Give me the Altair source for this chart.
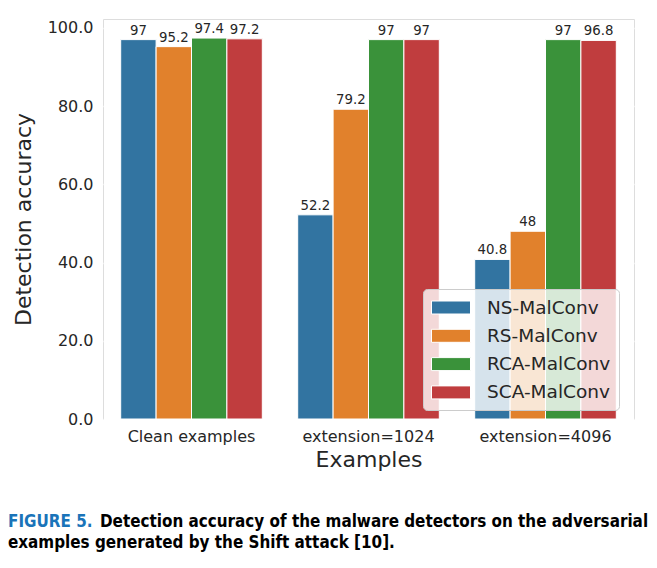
import altair as alt
import pandas as pd

categories = ["Clean examples", "extension=1024", "extension=4096"]
models = ["NS-MalConv", "RS-MalConv", "RCA-MalConv", "SCA-MalConv"]
ns_vals = [97, 52.2, 40.8]
rs_vals = [95.2, 79.2, 48]
rca_vals = [97.4, 97, 97]
sca_vals = [97.2, 97, 96.8]
colors = ["#3274a1", "#e1812c", "#3a923a", "#c03d3e"]
caption_head = ["FIGURE 5."]
caption_line1 = ["Detection accuracy of the malware detectors on the adversarial"]
caption_line2 = ["examples generated by the Shift attack [10]."]

rows = []
for m, vals in zip(models, [ns_vals, rs_vals, rca_vals, sca_vals]):
    for c, v in zip(categories, vals):
        rows.append({"category": c, "model": m, "value": v, "label": f"{v:g}"})
df = pd.DataFrame(rows)

font = "DejaVu Sans"
cap_font = "DejaVu Sans Condensed"
cap_size = 16.9

x_enc = alt.X("category:N", sort=categories, title="Examples",
              scale=alt.Scale(paddingInner=0.2, paddingOuter=0.1),
              axis=alt.Axis(labelAngle=0, labelFontSize=16, titleFontSize=22,
                            labelPadding=9, titlePadding=5, ticks=False, domain=False,
                            grid=False, labelColor="#262626", titleColor="#262626",
                            labelFont=font, titleFont=font, titleFontWeight="normal"))
xo_enc = alt.XOffset("model:N", sort=models)
y_enc = alt.Y("value:Q", title="Detection accuracy",
              scale=alt.Scale(domain=[0, 102.27], nice=False),
              axis=alt.Axis(values=[0, 20, 40, 60, 80, 100], format=".1f",
                            labelFontSize=16, titleFontSize=22, labelPadding=10,
                            titlePadding=12, ticks=False, domain=False,
                            gridColor="white", gridWidth=1.3,
                            labelColor="#262626", titleColor="#262626",
                            labelFont=font, titleFont=font, titleFontWeight="normal"))

base = alt.Chart(df)
bars = base.mark_bar(stroke="white", strokeWidth=1).encode(
    x=x_enc, xOffset=xo_enc, y=y_enc,
    color=alt.Color("model:N", sort=models,
                    scale=alt.Scale(domain=models, range=colors),
                    legend=alt.Legend(title=None, orient="none", legendX=320, legendY=270,
                                      fillColor="rgba(255,255,255,0.8)", strokeColor="#cccccc",
                                      cornerRadius=4, padding=8,
                                      symbolType="M-1,-0.65L2.9,-0.65L2.9,0.65L-1,0.65Z",
                                      symbolSize=400, symbolStrokeColor="white",
                                      symbolStrokeWidth=1, symbolOpacity=1,
                                      labelFontSize=18.5, labelFont=font, labelColor="#262626",
                                      labelOffset=35, rowPadding=8.3)),
)
texts = base.mark_text(baseline="bottom", dy=-2, fontSize=13.3, font=font, color="#262626").encode(
    x=alt.X("category:N", sort=categories), xOffset=xo_enc, y="value:Q", text="label:N")

cap_a = alt.Chart(pd.DataFrame({"t": caption_head})).mark_text(
    align="left", baseline="alphabetic", font=cap_font, fontWeight="bold", fontSize=cap_size,
    color="#1a74b9").encode(text="t:N", x=alt.value(-95), y=alt.value(508))
cap_b = alt.Chart(pd.DataFrame({"t": caption_line1})).mark_text(
    align="left", baseline="alphabetic", font=cap_font, fontWeight="bold", fontSize=cap_size,
    color="black").encode(text="t:N", x=alt.value(-3), y=alt.value(508))
cap_c = alt.Chart(pd.DataFrame({"t": caption_line2})).mark_text(
    align="left", baseline="alphabetic", font=cap_font, fontWeight="bold", fontSize=cap_size,
    color="black").encode(text="t:N", x=alt.value(-95), y=alt.value(529))

chart = alt.layer(bars, texts, cap_a, cap_b, cap_c).properties(
    width=531, height=400,
    autosize=alt.AutoSizeParams(type="none"),
    padding={"left": 95, "top": 11, "right": 15, "bottom": 141},
).configure_view(fill="#eaeaf2", stroke=None).configure(background="white")

chart.save("out.html", embed_options={"renderer": "svg", "actions": False})
